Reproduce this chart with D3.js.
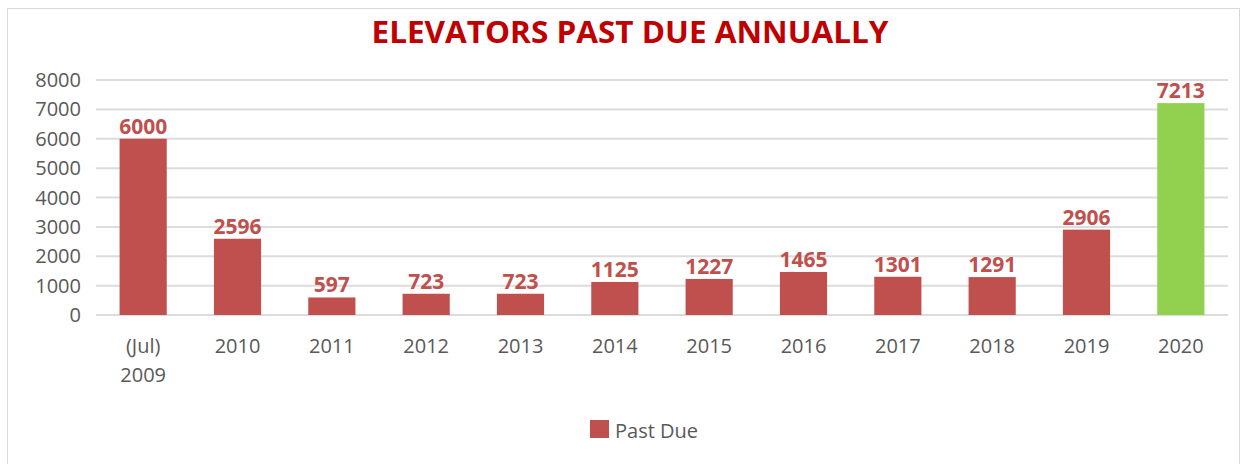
<!DOCTYPE html>
<html>
<head>
<meta charset="utf-8">
<script src="https://cdn.jsdelivr.net/npm/d3@7"></script>
<style>
  body { margin: 0; background: #fff; }
  svg { display: block; font-family: "Open Sans", sans-serif; }
</style>
</head>
<body>
<div id="chart"></div>
<script>
// data
const categories = ["(Jul) 2009", "2010", "2011", "2012", "2013", "2014", "2015", "2016", "2017", "2018", "2019", "2020"];
const pastDue = [6000, 2596, 597, 723, 723, 1125, 1227, 1465, 1301, 1291, 2906, 7213];
const yTicks = [0, 1000, 2000, 3000, 4000, 5000, 6000, 7000, 8000];
const highlight = ["2020"];

const width = 1248, height = 464;
const plot = { left: 96, right: 1228, top: 80, bottom: 315 };

const svg = d3.select("#chart")
  .append("svg")
  .attr("width", width)
  .attr("height", height);

// chart frame
svg.append("rect")
  .attr("x", 7.5).attr("y", 8.5)
  .attr("width", 1232).attr("height", 470)
  .attr("fill", "#fff")
  .attr("stroke", "#d9d9d9");

const x = d3.scaleBand()
  .domain(categories)
  .range([plot.left, plot.right])
  .paddingInner(0.5)
  .paddingOuter(0.25);

const y = d3.scaleLinear()
  .domain([0, 8000])
  .range([plot.bottom, plot.top]);

// gridlines
svg.selectAll(".grid")
  .data(yTicks)
  .enter()
  .append("line")
  .attr("class", "grid")
  .attr("x1", plot.left).attr("x2", plot.right)
  .attr("y1", d => y(d)).attr("y2", d => y(d))
  .attr("stroke", "#dcdcdc")
  .attr("stroke-width", 2);

// y axis labels
svg.selectAll(".ylab")
  .data(yTicks)
  .enter()
  .append("text")
  .attr("class", "ylab")
  .attr("x", 81)
  .attr("y", d => y(d) + 7)
  .attr("text-anchor", "end")
  .attr("fill", "#595959")
  .attr("font-size", "20px")
  .text(d => d);

const data = categories.map((c, i) => ({ cat: c, value: pastDue[i] }));

// bars
svg.selectAll(".bar")
  .data(data)
  .enter()
  .append("rect")
  .attr("class", "bar")
  .attr("x", d => x(d.cat))
  .attr("y", d => y(d.value))
  .attr("width", x.bandwidth())
  .attr("height", d => y(0) - y(d.value))
  .attr("fill", d => highlight.includes(d.cat) ? "#92d050" : "#c0504d");

// value labels
svg.selectAll(".val")
  .data(data)
  .enter()
  .append("text")
  .attr("class", "val")
  .attr("x", d => x(d.cat) + x.bandwidth() / 2)
  .attr("y", d => y(d.value) - 5)
  .attr("text-anchor", "middle")
  .attr("fill", "#c0504d")
  .attr("font-size", "21px")
  .attr("font-weight", "bold")
  .text(d => d.value);

// x labels (split on space for the first one)
const xl = svg.selectAll(".xlab")
  .data(categories)
  .enter()
  .append("text")
  .attr("class", "xlab")
  .attr("text-anchor", "middle")
  .attr("fill", "#595959")
  .attr("font-size", "20px");

xl.each(function(d) {
  const parts = d.split(" ");
  const t = d3.select(this);
  parts.forEach((p, i) => {
    t.append("tspan")
      .attr("x", x(d) + x.bandwidth() / 2)
      .attr("y", 353 + i * 29)
      .text(p);
  });
});

// title
svg.append("text")
  .attr("x", 630)
  .attr("y", 43)
  .attr("text-anchor", "middle")
  .attr("fill", "#c00000")
  .attr("font-size", "31px")
  .attr("font-weight", "bold")
  .attr("textLength", 517)
  .attr("lengthAdjust", "spacingAndGlyphs")
  .text("ELEVATORS PAST DUE ANNUALLY");

// legend
svg.append("rect")
  .attr("x", 590).attr("y", 420)
  .attr("width", 19).attr("height", 18)
  .attr("fill", "#c0504d");

svg.append("text")
  .attr("x", 615)
  .attr("y", 438)
  .attr("fill", "#595959")
  .attr("font-size", "20px")
  .text("Past Due");
</script>
</body>
</html>
